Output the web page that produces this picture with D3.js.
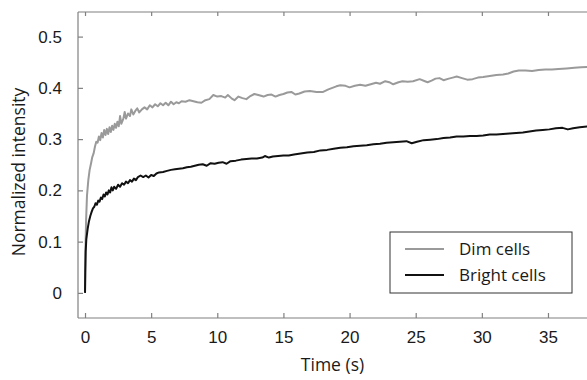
<!DOCTYPE html>
<html>
<head>
<script src="https://d3js.org/d3.v7.min.js"></script>
<style>
body { margin: 0; background: #fff; }
svg { font-family: "Open Sans", "Noto Sans", sans-serif; }
</style>
</head>
<body>
<div id="chart"></div>
<script>
// values
var dimT = [0,0.03,0.08,0.15,0.25,0.35,0.45,0.55,0.65,0.75,0.85,0.95,1.05,1.15,1.25,1.35,1.45,1.55,1.65,1.75,1.85,1.95,2.05,2.15,2.25,2.35,2.45,2.55,2.65,2.75,2.9,3.0,3.1,3.25,3.4,3.5,3.65,3.8,3.95,4.1,4.3,4.5,4.7,4.9,5.1,5.3,5.5,5.7,5.9,6.1,6.3,6.5,6.7,6.9,7.1,7.3,7.6,7.9,8.2,8.5,8.8,9.1,9.4,9.7,10.0,10.3,10.6,10.8,11.1,11.3,11.6,11.9,12.2,12.5,12.8,13.1,13.5,13.8,14.1,14.4,14.7,15.0,15.3,15.6,15.9,16.2,16.6,17.0,17.5,18.0,18.4,18.7,19.0,19.3,19.7,20.0,20.4,20.8,21.2,21.6,22.0,22.3,22.7,23.0,23.3,23.7,24.0,24.4,24.8,25.3,25.7,25.9,26.2,26.5,26.8,27.1,27.5,27.8,28.1,28.5,28.9,29.3,29.7,30.1,30.6,31.1,31.6,32.0,32.4,32.8,33.3,33.8,34.3,34.8,35.3,35.8,36.4,37.0,37.5,38.0];
var dimV = [0,0.08,0.14,0.19,0.22,0.24,0.252,0.265,0.272,0.285,0.295,0.293,0.305,0.298,0.312,0.303,0.318,0.308,0.32,0.31,0.323,0.314,0.326,0.318,0.33,0.322,0.334,0.325,0.345,0.33,0.34,0.353,0.34,0.35,0.345,0.358,0.348,0.355,0.36,0.352,0.358,0.362,0.358,0.366,0.362,0.368,0.364,0.37,0.366,0.371,0.366,0.373,0.368,0.372,0.37,0.374,0.373,0.376,0.374,0.372,0.371,0.376,0.378,0.386,0.383,0.384,0.381,0.386,0.379,0.376,0.383,0.38,0.378,0.384,0.388,0.386,0.383,0.386,0.387,0.383,0.386,0.388,0.391,0.392,0.387,0.389,0.393,0.394,0.392,0.392,0.397,0.4,0.403,0.405,0.404,0.401,0.404,0.406,0.404,0.407,0.41,0.408,0.413,0.411,0.407,0.411,0.413,0.412,0.413,0.417,0.413,0.411,0.414,0.418,0.419,0.415,0.418,0.42,0.422,0.419,0.416,0.417,0.42,0.421,0.423,0.425,0.426,0.428,0.432,0.434,0.434,0.433,0.435,0.436,0.436,0.437,0.438,0.439,0.44,0.441];

var brightT = [0,0.02,0.05,0.1,0.2,0.3,0.4,0.5,0.6,0.7,0.8,0.9,1.0,1.1,1.2,1.3,1.4,1.5,1.6,1.7,1.8,1.9,2.0,2.1,2.2,2.35,2.5,2.65,2.8,2.95,3.1,3.25,3.4,3.55,3.7,3.85,4.0,4.2,4.4,4.6,4.8,5.0,5.2,5.4,5.6,5.9,6.2,6.5,6.8,7.1,7.4,7.7,8.0,8.3,8.6,8.9,9.2,9.5,9.8,10.1,10.4,10.7,11.0,11.4,11.8,12.2,12.6,13.0,13.4,13.6,13.9,14.2,14.6,15.0,15.4,15.8,16.3,16.8,17.3,17.8,18.3,18.8,19.3,19.8,20.3,20.8,21.3,21.8,22.3,22.8,23.3,23.8,24.3,24.7,25.1,25.6,26.1,26.6,27.1,27.6,28.1,28.6,29.1,29.6,30.1,30.6,31.1,31.6,32.1,32.6,33.1,33.6,34.1,34.6,35.1,35.6,36.1,36.5,36.9,37.4,38.0];
var brightV = [0,0.04,0.08,0.105,0.125,0.14,0.15,0.158,0.165,0.168,0.175,0.172,0.18,0.178,0.186,0.183,0.192,0.188,0.196,0.192,0.2,0.196,0.206,0.2,0.207,0.203,0.211,0.207,0.214,0.211,0.217,0.214,0.22,0.217,0.223,0.22,0.226,0.229,0.226,0.229,0.225,0.23,0.228,0.233,0.235,0.236,0.238,0.24,0.241,0.242,0.243,0.245,0.246,0.248,0.25,0.251,0.248,0.253,0.252,0.254,0.255,0.252,0.257,0.258,0.26,0.261,0.262,0.262,0.264,0.267,0.264,0.266,0.267,0.268,0.268,0.27,0.272,0.274,0.275,0.278,0.279,0.281,0.283,0.284,0.286,0.287,0.288,0.29,0.291,0.293,0.294,0.295,0.296,0.292,0.295,0.298,0.299,0.3,0.302,0.303,0.305,0.305,0.306,0.306,0.307,0.309,0.309,0.31,0.311,0.312,0.313,0.315,0.317,0.318,0.319,0.321,0.322,0.319,0.321,0.323,0.325];

var xTicks = [0, 5, 10, 15, 20, 25, 30, 35];
var yTicks = [0, 0.1, 0.2, 0.3, 0.4, 0.5];
var seriesNames = ["Dim cells", "Bright cells"];
var seriesColors = ["#9a9a9a", "#111111"];

var width = 587, height = 380;
var mLeft = 78, mRight = 587, mTop = 12, mBottom = 318;

var svg = d3.select("#chart").append("svg")
  .attr("width", width).attr("height", height);

var x = d3.scaleLinear().domain([-0.53, 37.95]).range([mLeft, mRight]);
var y = d3.scaleLinear().domain([-0.049, 0.548]).range([mBottom, mTop]);

// frame lines (left, top, bottom)
var axisColor = "#808080";
svg.append("line").attr("x1", mLeft).attr("x2", mLeft).attr("y1", mTop).attr("y2", mBottom)
  .attr("stroke", axisColor).attr("stroke-width", 1.2);
svg.append("line").attr("x1", mLeft).attr("x2", mRight).attr("y1", mTop).attr("y2", mTop)
  .attr("stroke", axisColor).attr("stroke-width", 1.2);
svg.append("line").attr("x1", mLeft).attr("x2", mRight).attr("y1", mBottom).attr("y2", mBottom)
  .attr("stroke", axisColor).attr("stroke-width", 1.2);

var xAxis = d3.axisBottom(x).tickValues(xTicks).tickSize(-5).tickPadding(13)
  .tickFormat(d3.format("d"));
var gx = svg.append("g").attr("transform", "translate(0," + mBottom + ")").call(xAxis);

var xTop = d3.axisTop(x).tickValues(xTicks).tickSize(-4).tickFormat("");
var gxt = svg.append("g").attr("transform", "translate(0," + mTop + ")").call(xTop);

var yAxis = d3.axisLeft(y).tickValues(yTicks).tickSize(-5).tickPadding(16)
  .tickFormat(function (d) { return d === 0 ? "0" : d3.format(".1f")(d); });
var gy = svg.append("g").attr("transform", "translate(" + mLeft + ",0)").call(yAxis);

[gx, gxt, gy].forEach(function (g) {
  g.select(".domain").remove();
  g.selectAll(".tick line").attr("stroke", axisColor).attr("stroke-width", 1.2);
  g.selectAll(".tick text").attr("fill", "#1a1a1a").style("font-size", "17px");
});

// lines
var line = d3.line()
  .x(function (d) { return x(d[0]); })
  .y(function (d) { return y(d[1]); });

svg.append("clipPath").attr("id", "clip").append("rect")
  .attr("x", mLeft).attr("y", mTop).attr("width", mRight - mLeft).attr("height", mBottom - mTop);

var dimData = dimT.map(function (t, i) { return [t, dimV[i]]; });
var brightData = brightT.map(function (t, i) { return [t, brightV[i]]; });

svg.append("path").datum(dimData).attr("d", line).attr("clip-path", "url(#clip)")
  .attr("fill", "none").attr("stroke", seriesColors[0]).attr("stroke-width", 2)
  .attr("stroke-linejoin", "round");
svg.append("path").datum(brightData).attr("d", line).attr("clip-path", "url(#clip)")
  .attr("fill", "none").attr("stroke", seriesColors[1]).attr("stroke-width", 2)
  .attr("stroke-linejoin", "round");

// axis titles
svg.append("text").attr("x", (mLeft + mRight) / 2).attr("y", 371)
  .attr("text-anchor", "middle").style("font-size", "17.5px").attr("fill", "#1a1a1a")
  .text("Time (s)");
svg.append("text").attr("transform", "translate(25,172) rotate(-90)")
  .attr("text-anchor", "middle").style("font-size", "17.5px").attr("fill", "#1a1a1a")
  .text("Normalized intensity");

// legend
var legend = svg.append("g").attr("transform", "translate(390,232)");
legend.append("rect").attr("width", 182).attr("height", 61)
  .attr("fill", "#fff").attr("stroke", "#333").attr("stroke-width", 1);
seriesNames.forEach(function (name, i) {
  var ly = 17 + i * 26;
  legend.append("line").attr("x1", 15).attr("x2", 54).attr("y1", ly).attr("y2", ly)
    .attr("stroke", seriesColors[i]).attr("stroke-width", 2);
  legend.append("text").attr("x", 69).attr("y", ly + 6).style("font-size", "17px")
    .attr("fill", "#1a1a1a").text(name);
});
</script>
</body>
</html>
